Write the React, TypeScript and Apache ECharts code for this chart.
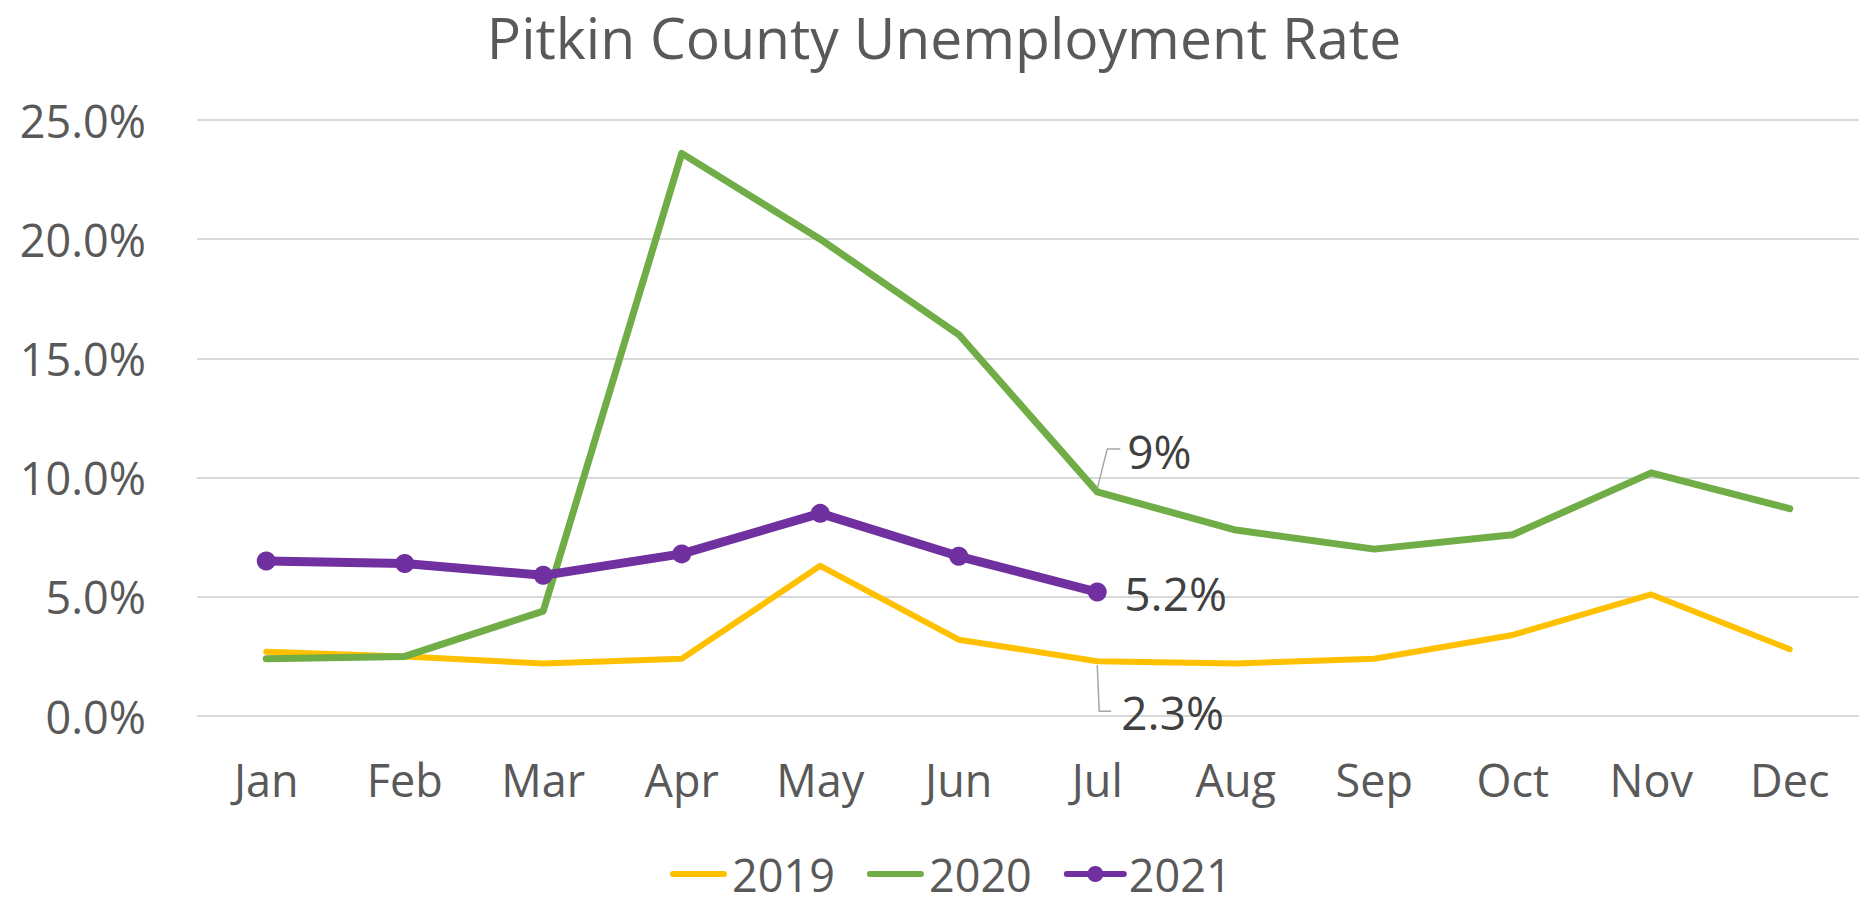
import React, { useEffect, useRef } from 'react';
import * as echarts from 'echarts';

const months = ['Jan', 'Feb', 'Mar', 'Apr', 'May', 'Jun', 'Jul', 'Aug', 'Sep', 'Oct', 'Nov', 'Dec'];
const rate2019 = [2.7, 2.5, 2.2, 2.4, 6.3, 3.2, 2.3, 2.2, 2.4, 3.4, 5.1, 2.8];
const rate2020 = [2.4, 2.5, 4.4, 23.6, 20.0, 16.0, 9.4, 7.8, 7.0, 7.6, 10.2, 8.7];
const rate2021 = [6.5, 6.4, 5.9, 6.8, 8.5, 6.7, 5.2];
const seriesNames = ['2019', '2020', '2021'];
const yMin = 0;
const yMax = 25;
const yStep = 5;

// data labels: which series / month, and how many decimals are shown
const annotations = [
  { series: '2020', month: 'Jul', decimals: 0 },
  { series: '2021', month: 'Jul', decimals: 1 },
  { series: '2019', month: 'Jul', decimals: 1 },
];

const FONT = "'Open Sans', sans-serif";
const GRAY = '#595959';

// label placement styles (offsets from the data point)
const labelLayouts = [
  { dx: 30, dy: -41, leader: [[0, -3], [10, -43], [23, -43]] },
  { dx: 27, dy: 1, leader: null },
  { dx: 24, dy: 51, leader: [[0, 4], [2, 50], [14, 50]] },
];

const valuesByName: Record<string, number[]> = {
  '2019': rate2019,
  '2020': rate2020,
  '2021': rate2021,
};

const LINE_ICON = 'path://M3,0 L54,0 A3,3 0 0 1 54,6 L3,6 A3,3 0 0 1 3,0 Z';

export default function App() {
  const ref = useRef<HTMLDivElement>(null);
  useEffect(() => {
    document.body.style.margin = '0';
    const chart = echarts.init(ref.current!, null, { renderer: 'svg' });
    const annData = annotations.map((a) => {
      const i = months.indexOf(a.month);
      return [i, valuesByName[a.series][i], a.decimals];
    });
    const option: any = {
      animation: false,
      backgroundColor: '#ffffff',
      textStyle: { fontFamily: FONT },
      graphic: [
        {
          type: 'text',
          x: 944,
          y: 37,
          style: {
            text: 'Pitkin County Unemployment Rate',
            fill: GRAY,
            font: `57px ${FONT}`,
            align: 'center',
            verticalAlign: 'middle',
          },
        },
      ],
      grid: { left: 197, right: 11, top: 120, bottom: 185, containLabel: false },
      legend: {
        data: [
          { name: seriesNames[0], icon: LINE_ICON },
          { name: seriesNames[1], icon: LINE_ICON },
          { name: seriesNames[2] },
        ],
        left: 665,
        top: 846,
        itemWidth: 57,
        itemHeight: 20,
        itemGap: 32,
        symbolKeepAspect: true,
        lineStyle: { width: 6, cap: 'round' },
        textStyle: { color: GRAY, fontSize: 45, fontFamily: FONT, lineHeight: 46 },
      },
      xAxis: {
        type: 'category',
        data: months,
        boundaryGap: true,
        axisLine: { show: false },
        axisTick: { show: false },
        axisLabel: { color: GRAY, fontSize: 45, fontFamily: FONT, margin: 40, lineHeight: 46 },
      },
      yAxis: {
        type: 'value',
        min: yMin,
        max: yMax,
        interval: yStep,
        axisLine: { show: false },
        axisTick: { show: false },
        splitLine: { lineStyle: { color: '#D9D9D9', width: 1.8 } },
        axisLabel: {
          color: GRAY,
          fontSize: 45,
          fontFamily: FONT,
          margin: 51,
          formatter: (v: number) => v.toFixed(1) + '%',
        },
      },
      series: [
        {
          name: '2019',
          type: 'line',
          data: rate2019,
          symbol: 'none',
          color: '#FFC000',
          lineStyle: { width: 6, color: '#FFC000', cap: 'round', join: 'round' },
          z: 2,
        },
        {
          name: '2020',
          type: 'line',
          data: rate2020,
          symbol: 'none',
          color: '#70AD47',
          lineStyle: { width: 7, color: '#70AD47', cap: 'round', join: 'round' },
          z: 3,
        },
        {
          name: '2021',
          type: 'line',
          data: rate2021,
          symbol: 'circle',
          symbolSize: 19,
          color: '#7030A0',
          itemStyle: { color: '#7030A0' },
          lineStyle: { width: 9, color: '#7030A0', cap: 'round', join: 'round' },
          z: 4,
        },
        {
          name: 'labels',
          type: 'custom',
          data: annData,
          z: 10,
          clip: false,
          silent: true,
          renderItem: (params: any, api: any) => {
            const p = api.coord([api.value(0), api.value(1)]);
            const lay = labelLayouts[params.dataIndex];
            const dec = api.value(2);
            const children: any[] = [];
            if (lay.leader) {
              children.push({
                type: 'polyline',
                shape: { points: lay.leader.map(([dx, dy]) => [p[0] + dx, p[1] + dy]) },
                style: { stroke: '#A6A6A6', lineWidth: 1.5, fill: null },
              });
            }
            children.push({
              type: 'text',
              x: p[0] + lay.dx,
              y: p[1] + lay.dy,
              style: {
                text: Number(api.value(1)).toFixed(dec) + '%',
                fill: '#404040',
                font: `46px ${FONT}`,
                align: 'left',
                verticalAlign: 'middle',
              },
            });
            return { type: 'group', children };
          },
        },
      ],
    };
    chart.setOption(option);
    return () => chart.dispose();
  }, []);
  return <div ref={ref} style={{ width: 1870, height: 901 }} />;
}
